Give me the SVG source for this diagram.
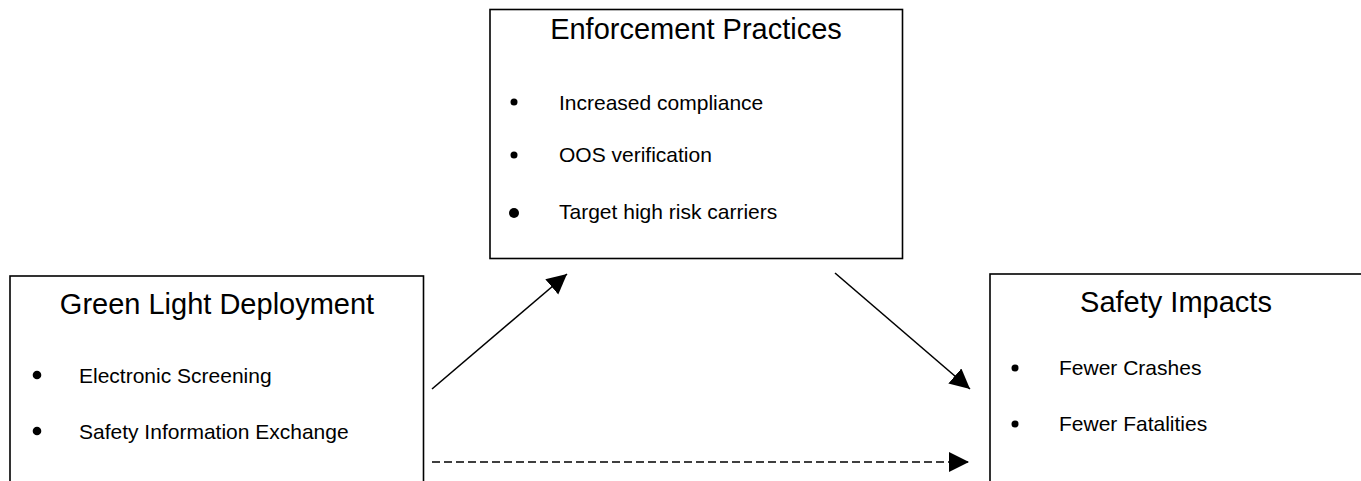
<svg xmlns="http://www.w3.org/2000/svg" width="1361" height="481" viewBox="0 0 1361 481">
<style>
.box{fill:#fff;stroke:#000;stroke-width:1.6}
.title{font-family:"Liberation Sans",Arial,sans-serif;font-size:29px;fill:#000;text-anchor:middle}
.item{font-family:"Liberation Sans",Arial,sans-serif;font-size:21px;fill:#000}
.dot{fill:#000}
.conn{stroke:#000;stroke-width:1.6;fill:none}
.dash{stroke-dasharray:8 4}
</style>
<defs>
<marker id="ah" markerUnits="userSpaceOnUse" markerWidth="22" markerHeight="22" refX="20" refY="10" orient="auto" viewBox="0 0 22 22">
<path d="M0,0 L20,10 L0,20 Z" fill="#000"/>
</marker>
</defs>
<g id="green-light">
<rect class="box" x="10" y="276" width="413.5" height="220"/>
<text class="title" x="217" y="314">Green Light Deployment</text>
<circle class="dot" cx="37" cy="375" r="4.3"/>
<text class="item" x="79" y="383">Electronic Screening</text>
<circle class="dot" cx="37" cy="431" r="4.3"/>
<text class="item" x="79" y="439">Safety Information Exchange</text>
</g>
<g id="enforcement">
<rect class="box" x="490" y="9.5" width="412.5" height="249"/>
<text class="title" x="696" y="39">Enforcement Practices</text>
<circle class="dot" cx="514" cy="102" r="3.5"/>
<text class="item" x="559" y="110">Increased compliance</text>
<circle class="dot" cx="514" cy="155" r="3.5"/>
<text class="item" x="559" y="162">OOS verification</text>
<circle class="dot" cx="514" cy="213" r="5"/>
<text class="item" x="559" y="219">Target high risk carriers</text>
</g>
<g id="safety">
<rect class="box" x="990" y="274" width="376" height="220"/>
<text class="title" x="1176" y="312">Safety Impacts</text>
<circle class="dot" cx="1015" cy="368" r="3.5"/>
<text class="item" x="1059" y="375">Fewer Crashes</text>
<circle class="dot" cx="1015" cy="424" r="3.5"/>
<text class="item" x="1059" y="431">Fewer Fatalities</text>
</g>
<g id="connectors">
<line class="conn" x1="432" y1="389" x2="567" y2="274" marker-end="url(#ah)"/>
<line class="conn" x1="835" y1="273" x2="970" y2="389" marker-end="url(#ah)"/>
<line class="conn dash" x1="432" y1="462" x2="969" y2="462" marker-end="url(#ah)"/>
</g>
</svg>
